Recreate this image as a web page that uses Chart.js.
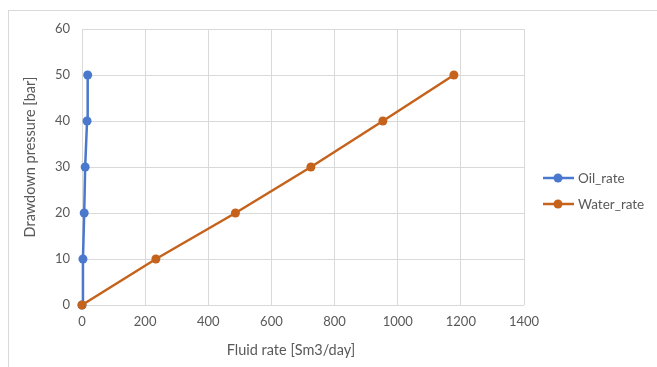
<!DOCTYPE html>
<html><head><meta charset="utf-8">
<script src="https://cdn.jsdelivr.net/npm/chart.js@4.4.1/dist/chart.umd.min.js"></script>
<style>
html,body{margin:0;padding:0;background:#fff;overflow:hidden;width:657px;height:367px;}
#frame{position:absolute;left:8px;top:10px;width:700px;height:400px;border:1px solid #d9d9d9;box-sizing:border-box;}
#wrap{position:absolute;left:0;top:0;width:657px;height:367px;}
</style></head>
<body>
<div id="frame"></div>
<div id="wrap"><canvas id="c" width="657" height="367"></canvas></div>
<script>
const pressure = [0, 10, 20, 30, 40, 50];
const oilRate = [0, 3, 7, 10, 16, 18];
const waterRate = [0, 234, 486, 725, 953, 1178];
const seriesNames = ['Oil_rate', 'Water_rate'];
const seriesColors = ['#4A78CC', '#C5621B'];
const xTitle = 'Fluid rate [Sm3/day]';
const yTitle = 'Drawdown pressure [bar]';

const FONT = 'Lato, "Open Sans", sans-serif';
const TXT = '#595959';

const toPts = (xs) => xs.map((x, i) => ({x: x, y: pressure[i]}));

const legendPlugin = {
  id: 'customLegend',
  afterDraw(chart) {
    const ctx = chart.ctx;
    ctx.save();
    const x0 = 543, y0 = 178, dy = 26;
    chart.data.datasets.forEach((ds, i) => {
      const y = y0 + i * dy;
      ctx.strokeStyle = ds.borderColor;
      ctx.lineWidth = 2.5;
      ctx.beginPath(); ctx.moveTo(x0, y); ctx.lineTo(x0 + 31, y); ctx.stroke();
      ctx.fillStyle = ds.borderColor;
      ctx.beginPath(); ctx.arc(x0 + 15, y, 4.5, 0, Math.PI * 2); ctx.fill();
      ctx.fillStyle = TXT;
      ctx.font = '13.5px ' + FONT;
      ctx.textBaseline = 'middle';
      ctx.textAlign = 'left';
      ctx.fillText(ds.label, x0 + 35, y + 1);
    });
    // axis titles
    ctx.fillStyle = TXT;
    ctx.font = '14.5px ' + FONT;
    ctx.textAlign = 'center';
    ctx.textBaseline = 'middle';
    ctx.fillText(xTitle, 291, 350);
    ctx.translate(30, 157);
    ctx.rotate(-Math.PI / 2);
    ctx.fillText(yTitle, 0, 0);
    ctx.restore();
  }
};

new Chart(document.getElementById('c'), {
  type: 'line',
  data: {
    datasets: [
      {label: seriesNames[0], data: toPts(oilRate), borderColor: seriesColors[0], backgroundColor: seriesColors[0], order: 1, clip: false,
       borderWidth: 2.5, pointRadius: 4.5, pointBorderWidth: 0, pointBackgroundColor: seriesColors[0], tension: 0},
      {label: seriesNames[1], data: toPts(waterRate), borderColor: seriesColors[1], backgroundColor: seriesColors[1], order: 0, clip: false,
       borderWidth: 2.5, pointRadius: 4.5, pointBorderWidth: 0, pointBackgroundColor: seriesColors[1], tension: 0}
    ]
  },
  options: {
    responsive: false,
    animation: false,
    layout: {padding: {left: 0, right: 133, top: 29, bottom: 0}},
    plugins: {legend: {display: false}, tooltip: {enabled: false}},
    scales: {
      x: {
        type: 'linear', min: 0, max: 1400,
        ticks: {stepSize: 200, color: TXT, font: {family: FONT, size: 13}, padding: 9, callback: (v) => String(v)},
        grid: {color: '#d9d9d9', drawTicks: false, lineWidth: 1},
        border: {display: false},
        title: {display: false, text: xTitle},
        afterFit(s) { s.height = 62; }
      },
      y: {
        type: 'linear', min: 0, max: 60,
        ticks: {stepSize: 10, color: TXT, font: {family: FONT, size: 13}, padding: 12, callback: (v) => String(v)},
        grid: {color: '#d9d9d9', drawTicks: false, lineWidth: 1},
        border: {display: false},
        title: {display: false, text: yTitle},
        afterFit(s) { s.width = 82; }
      }
    }
  },
  plugins: [legendPlugin]
});
</script>
</body></html>
